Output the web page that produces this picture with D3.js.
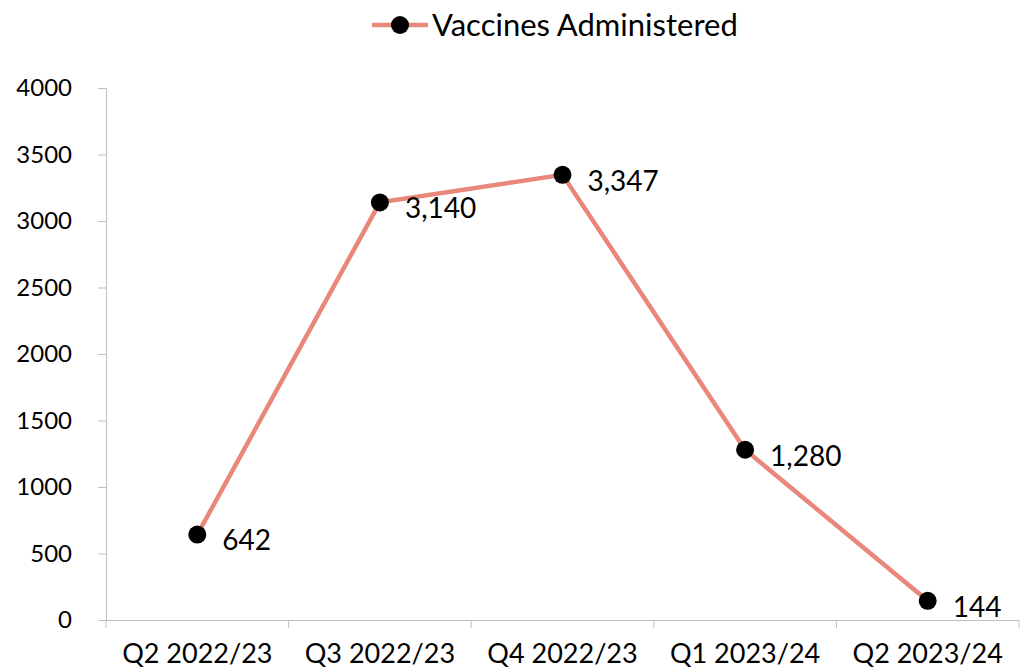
<!DOCTYPE html>
<html>
<head>
<meta charset="utf-8">
<script src="https://cdn.jsdelivr.net/npm/d3@7"></script>
<style>
  body { margin: 0; background: #fff; }
  text { font-family: "Lato", "Noto Sans", sans-serif; fill: #000; }
</style>
</head>
<body>
<svg width="1026" height="668"></svg>
<script>
var quarters = ["Q2 2022/23", "Q3 2022/23", "Q4 2022/23", "Q1 2023/24", "Q2 2023/24"];
var vaccines = [642, 3140, 3347, 1280, 144];
var yTicks = [0, 500, 1000, 1500, 2000, 2500, 3000, 3500, 4000];

var svg = d3.select("svg"),
    lineColor = "#e8877a",
    axisColor = "#bfbfbf";

var x = d3.scaleBand()
    .domain(quarters)
    .range([106, 1019]);

var y = d3.scaleLinear()
    .domain([0, 4000])
    .range([620, 88]);

// y axis
var yAxis = svg.append("g")
    .attr("transform", "translate(106,0)")
    .call(d3.axisLeft(y).tickValues(yTicks).tickSize(8).tickPadding(26).tickFormat(d3.format("d")));
yAxis.selectAll("text").style("font-size", "24px");

// x axis
var xAxis = svg.append("g")
    .attr("transform", "translate(0,620)")
    .call(d3.axisBottom(x).tickSize(0).tickPadding(24));
xAxis.selectAll("text").style("font-size", "27px");
xAxis.select(".domain").attr("d", "M98,0.5H1019");
// boundary ticks between categories
xAxis.selectAll(".bound")
    .data(d3.range(quarters.length + 1))
    .enter().append("line")
    .attr("class", "bound")
    .attr("x1", function(i) { return 106 + i * x.step(); })
    .attr("x2", function(i) { return 106 + i * x.step(); })
    .attr("y1", 0).attr("y2", 8)
    .attr("stroke", axisColor);

svg.selectAll(".domain, .tick line").attr("stroke", axisColor);

var cx = function(d, i) { return x(quarters[i]) + x.bandwidth() / 2; };

svg.append("path")
    .datum(vaccines)
    .attr("fill", "none")
    .attr("stroke", lineColor)
    .attr("stroke-width", 4.5)
    .attr("d", d3.line().x(cx).y(function(d) { return y(d); }));

svg.selectAll(".dot")
    .data(vaccines)
    .enter().append("circle")
    .attr("cx", cx)
    .attr("cy", function(d) { return y(d); })
    .attr("r", 9)
    .attr("fill", "#000");

svg.selectAll(".lbl")
    .data(vaccines)
    .enter().append("text")
    .attr("x", function(d, i) { return cx(d, i) + 25; })
    .attr("y", function(d) { return y(d) + 6; })
    .attr("dy", "0.35em")
    .style("font-size", "28px")
    .text(d3.format(","));

// legend
var lg = svg.append("g");
lg.append("line")
    .attr("x1", 372).attr("x2", 428).attr("y1", 25).attr("y2", 25)
    .attr("stroke", lineColor).attr("stroke-width", 4.5);
lg.append("circle").attr("cx", 400).attr("cy", 25).attr("r", 9).attr("fill", "#000");
lg.append("text")
    .attr("x", 432).attr("y", 25).attr("dy", "0.35em")
    .style("font-size", "31px")
    .text("Vaccines Administered");
</script>
</body>
</html>
